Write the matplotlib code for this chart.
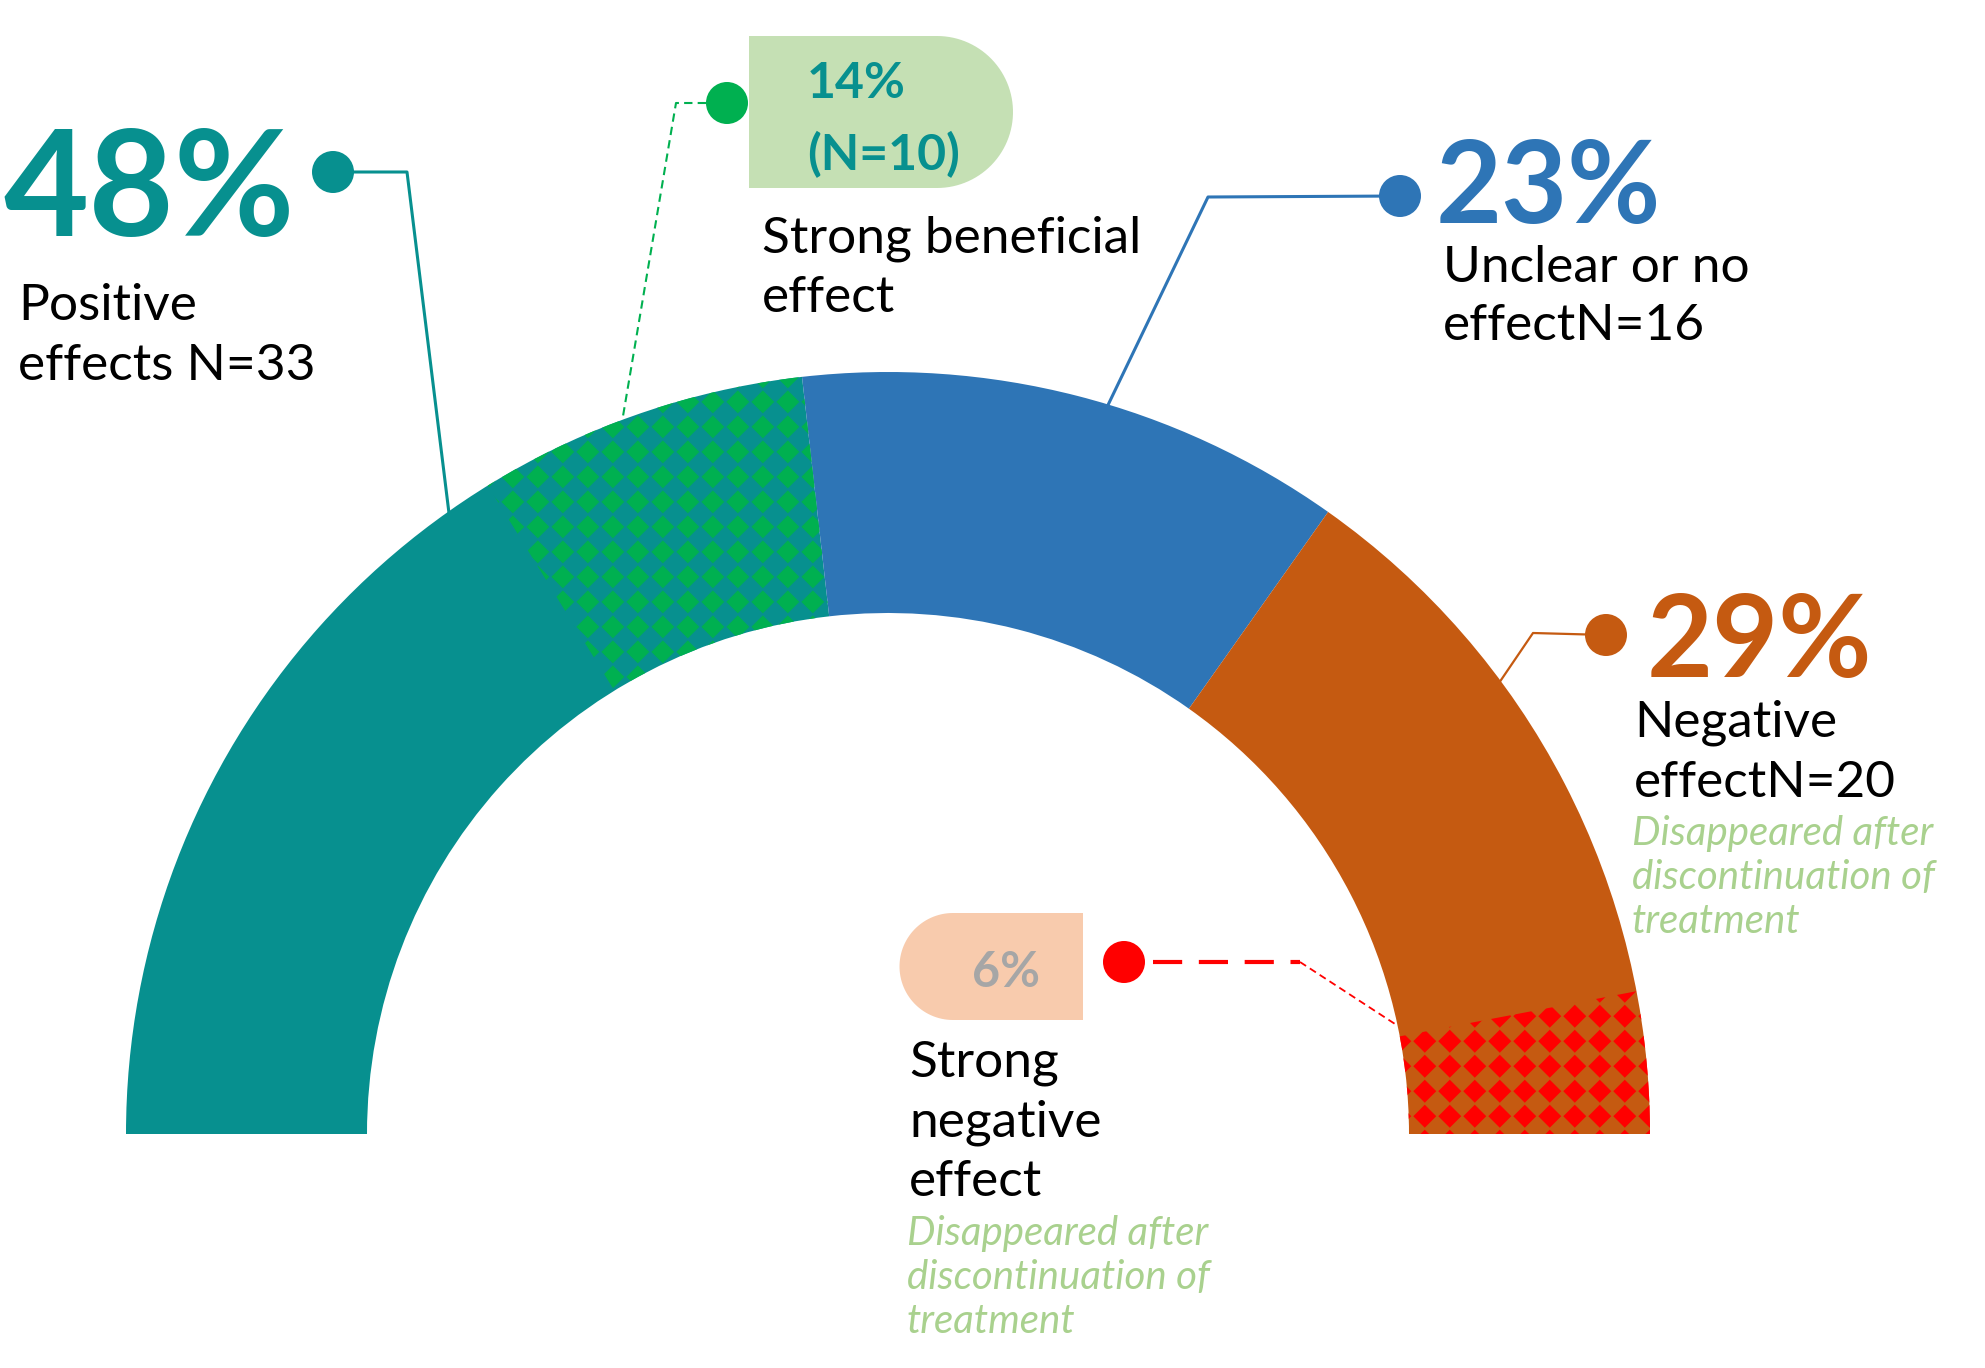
import numpy as np
import matplotlib.pyplot as plt
from matplotlib.patches import Wedge, Circle, PathPatch, Polygon
from matplotlib.path import Path

plt.rcParams['font.family'] = ['Lato', 'DejaVu Sans']

# data
groups = ["Positive\neffects N=33", "Unclear or no\neffectN=16", "Negative\neffectN=20"]
arc_share = [46.4, 23.2, 30.4]          # % of the half ring as drawn
pct_labels = ["48%", "23%", "29%"]
strong_share = [14, 6]                  # strong beneficial / strong negative (% of half ring)
strong_labels = ["14%\n(N=10)", "6%"]
strong_names = ["Strong beneficial\neffect", "Strong\nnegative\neffect"]
note = "Disappeared after\ndiscontinuation of\ntreatment"

colors = ["#07908F", "#2E75B6", "#C55A11"]
pattern_colors = ["#00B050", "#FF0000"]
note_color = "#A9D18E"

W, H = 1985, 1368
fig = plt.figure(figsize=(W / 100, H / 100), dpi=100)
ax = fig.add_axes([0, 0, 1, 1])
ax.set_xlim(0, W)
ax.set_ylim(H, 0)
ax.axis('off')

cx, cy, R, r = 888, 1134, 762, 521


def pt(angle, rad):
    a = np.radians(angle)
    return cx + rad * np.cos(a), cy - rad * np.sin(a)


def ring(a0, a1, color):
    w = Wedge((cx, cy), R, -a1, -a0, width=R - r, facecolor=color, edgecolor='none')
    ax.add_patch(w)
    return w


def diamonds(a0, a1, color, step=25, half=11.5):
    xs = [pt(a, rr)[0] for a in np.linspace(a0, a1, 30) for rr in (r, R)]
    ys = [pt(a, rr)[1] for a in np.linspace(a0, a1, 30) for rr in (r, R)]
    verts, codes = [], []
    for x in np.arange(min(xs) - step, max(xs) + step, step):
        for y in np.arange(min(ys) - step, max(ys) + step, step):
            verts += [(x - half, y), (x, y - half), (x + half, y), (x, y + half), (x - half, y)]
            codes += [Path.MOVETO, Path.LINETO, Path.LINETO, Path.LINETO, Path.CLOSEPOLY]
    pp = PathPatch(Path(verts, codes), facecolor=color, edgecolor='none')
    ax.add_patch(pp)
    clip = Wedge((cx, cy), R, -a1, -a0, width=R - r, transform=ax.transData)
    pp.set_clip_path(clip)


# main half ring
ends = 180 - np.cumsum(arc_share) * 1.8
starts = np.concatenate([[180], ends[:-1]])
for s, e, c in zip(starts, ends, colors):
    ring(e, s, c)

# patterned sub parts
g0 = ends[0]
g1 = g0 + strong_share[0] * 1.8
diamonds(g0, g1, pattern_colors[0])
diamonds(0, strong_share[1] * 1.8, pattern_colors[1])


def lines(x, y0, text, step, **kw):
    for i, t in enumerate(text.split("\n")):
        ax.text(x, y0 + i * step, t, ha='left', va='baseline', **kw)


def dot(x, y, color):
    ax.add_patch(Circle((x, y), 21, facecolor=color, edgecolor='none', zorder=5))


body = dict(fontsize=37, color='black')
small = dict(fontsize=29, style='italic', color=note_color)

# positive effects
tx, ty = pt(125.2, R)
ax.plot([333, 407, tx], [172, 172, ty], color=colors[0], lw=2.2)
dot(333, 172, colors[0])
ax.text(3, 236, pct_labels[0], fontsize=106, fontweight='bold', color=colors[0], va='baseline')
lines(18, 320, groups[0], 60, **body)

# strong beneficial
tx, ty = pt(110.4, R)
ax.plot([706, 676, tx], [103, 103, ty], color=pattern_colors[0], lw=1.5, dashes=(4, 2.5))
t = np.radians(np.linspace(90, -90, 60))
box = [(749, 36)] + list(zip(937 + 76 * np.cos(t), 112 - 76 * np.sin(t))) + [(749, 188)]
ax.add_patch(Polygon(box, closed=True, facecolor="#C5E0B4", edgecolor='none'))
dot(727, 103, pattern_colors[0])
lines(807, 98, strong_labels[0], 72, fontsize=36, fontweight='bold', color=colors[0])
lines(762, 252, strong_names[0], 60, **body)

# unclear
tx, ty = pt(73.2, R)
ax.plot([1400, 1208, tx], [196, 197, ty], color=colors[1], lw=2.2)
dot(1400, 196, colors[1])
ax.text(1436, 223, pct_labels[1], fontsize=82, fontweight='bold', color=colors[1], va='baseline')
lines(1443, 282, groups[1], 58, **body)

# negative
tx, ty = pt(36.5, R)
ax.plot([1606, 1533, tx], [635, 633, ty], color=colors[2], lw=1.6)
dot(1606, 635, colors[2])
ax.text(1647, 677, pct_labels[2], fontsize=82, fontweight='bold', color=colors[2], va='baseline')
lines(1634, 737, groups[2], 60, **body)
lines(1632, 845, note, 44, **small)

# strong negative
tx, ty = pt(12.0, r)
ax.plot([1153, 1300], [962, 962], color=pattern_colors[1], lw=3, dashes=(7, 4))
ax.plot([1300, tx], [962, ty], color=pattern_colors[1], lw=1.3, dashes=(4, 2.5))
t = np.radians(np.linspace(90, 270, 60))
box = [(1083, 913)] + list(zip(953 + 53.5 * np.cos(t), 966.5 - 53.5 * np.sin(t))) + [(1083, 1020)]
ax.add_patch(Polygon(box, closed=True, facecolor="#F8CBAD", edgecolor='none'))
dot(1124, 962, pattern_colors[1])
ax.text(972, 987, strong_labels[1], fontsize=35, fontweight='bold', color="#A6A6A6", va='baseline')
lines(909, 1076, strong_names[1], 60, **body)
lines(907, 1245, note, 44, **small)

fig.savefig("out.png", dpi=100, facecolor='white')
